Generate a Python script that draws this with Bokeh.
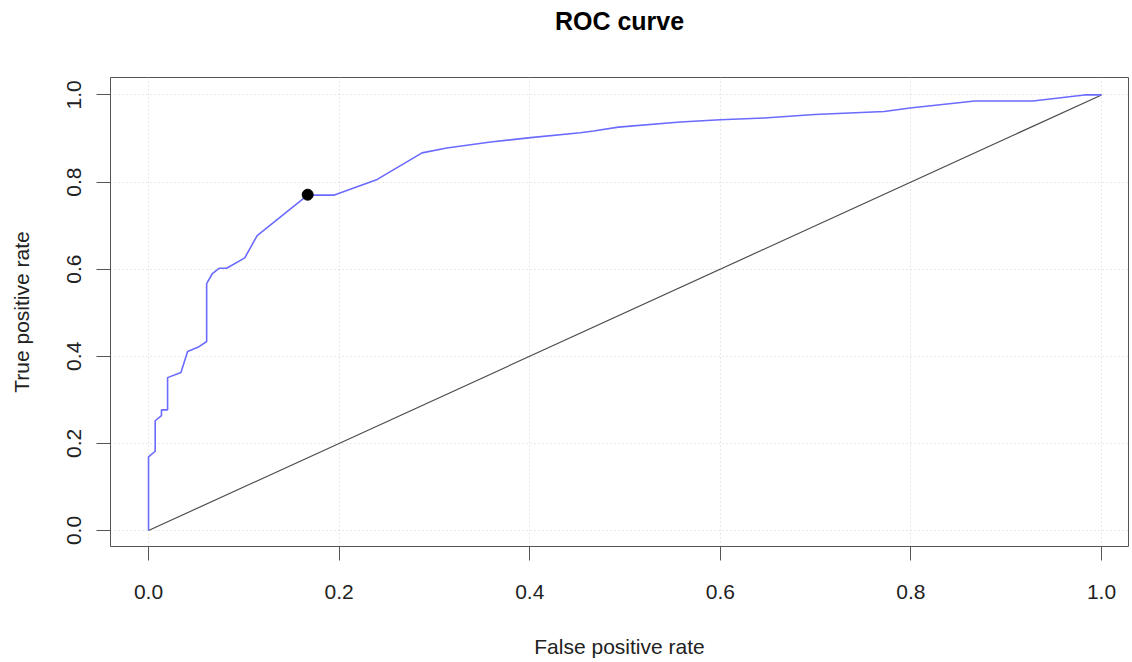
from bokeh.plotting import figure
from bokeh.models import Range1d, FixedTicker, Title
from bokeh.embed import file_html
from bokeh.resources import INLINE

# ROC curve data
fpr = [0.0, 0.0, 0.007, 0.007, 0.0136, 0.0136, 0.020, 0.020, 0.034, 0.041,
       0.053, 0.061, 0.061, 0.067, 0.074, 0.082, 0.101, 0.114, 0.167, 0.195,
       0.240, 0.287, 0.313, 0.359, 0.401, 0.453, 0.467, 0.493, 0.558, 0.600,
       0.646, 0.699, 0.772, 0.799, 0.867, 0.928, 0.982, 1.0]
tpr = [0.0, 0.169, 0.182, 0.252, 0.264, 0.277, 0.277, 0.351, 0.363, 0.411,
       0.422, 0.434, 0.567, 0.590, 0.602, 0.602, 0.626, 0.677, 0.770, 0.770,
       0.806, 0.867, 0.878, 0.892, 0.902, 0.913, 0.917, 0.926, 0.938, 0.943,
       0.947, 0.955, 0.962, 0.970, 0.986, 0.986, 1.0, 1.0]

# chance diagonal
diag_x = [0.0, 1.0]
diag_y = [0.0, 1.0]

# optimal cutoff point
cut_x = [0.167]
cut_y = [0.771]

ticks = [0.0, 0.2, 0.4, 0.6, 0.8, 1.0]
tick_labels = {0.0: "0.0", 0.2: "0.2", 0.4: "0.4", 0.6: "0.6", 0.8: "0.8", 1.0: "1.0"}

FONT = "Liberation Sans"

p = figure(width=1130, height=660, output_backend="svg", toolbar_location=None,
           x_range=Range1d(-0.0399, 1.0283), y_range=Range1d(-0.0367, 1.04),
           title="ROC curve",
           x_axis_label="False positive rate", y_axis_label="True positive rate",
           min_border_left=110, min_border_right=2, min_border_top=0,
           min_border_bottom=103)

p.background_fill_color = "white"
p.border_fill_color = "white"
p.outline_line_color = "#555555"
p.outline_line_width = 1

p.title.align = "center"
p.title.text_font = FONT
p.title.text_font_size = "25px"
p.title.text_font_style = "bold"
p.title.text_color = "black"
p.title.standoff = 8

# blank spacer between the title and the plot frame
p.add_layout(Title(text=" ", text_font_size="2px", standoff=35), "above")

for ax in (p.xaxis[0], p.yaxis[0]):
    ax.ticker = FixedTicker(ticks=ticks)
    ax.major_label_overrides = tick_labels
    ax.bounds = (0, 1)
    ax.axis_line_color = "#555555"
    ax.major_tick_line_color = "#555555"
    ax.major_tick_out = 14
    ax.major_tick_in = 0
    ax.minor_tick_line_color = None
    ax.major_label_text_font = FONT
    ax.major_label_text_font_size = "21px"
    ax.major_label_text_color = "#222222"
    ax.axis_label_text_font = FONT
    ax.axis_label_text_font_size = "21px"
    ax.axis_label_text_font_style = "normal"
    ax.axis_label_text_color = "#222222"

p.xaxis.major_label_standoff = 24
p.xaxis.axis_label_standoff = 33
p.yaxis.major_label_orientation = "vertical"
p.yaxis.major_label_standoff = 15
p.yaxis.axis_label_standoff = 32

for g in (p.xgrid[0], p.ygrid[0]):
    g.ticker = FixedTicker(ticks=ticks)
    g.grid_line_color = "#d3d3d3"
    g.grid_line_dash = "1 3"
    g.grid_line_width = 1

p.line(diag_x, diag_y, line_color="#4d4d4d", line_width=1.2)
p.line(fpr, tpr, line_color="#6b6bff", line_width=1.6)
p.scatter(cut_x, cut_y, size=11, fill_color="black", line_color="black")

open("out.html", "w").write(file_html(p, INLINE))
